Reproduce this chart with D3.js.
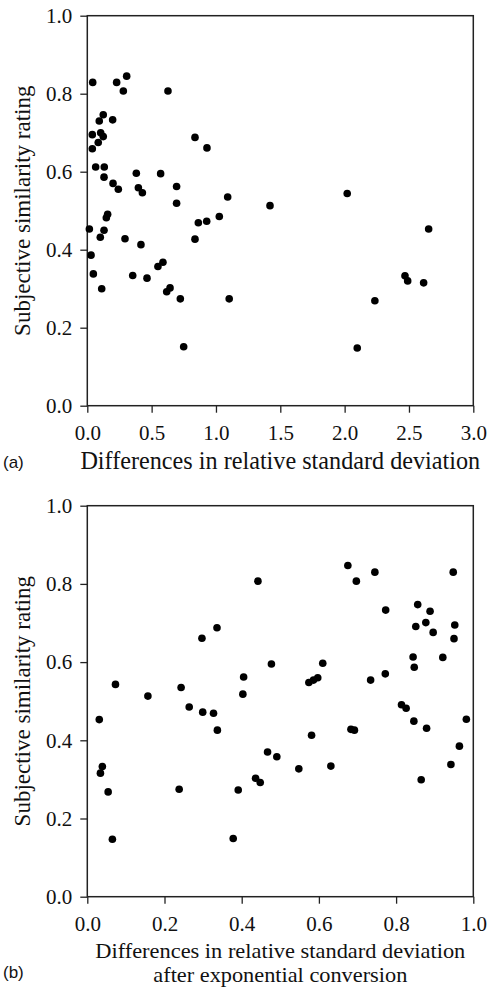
<!DOCTYPE html>
<html>
<head>
<meta charset="utf-8">
<script src="https://cdn.jsdelivr.net/npm/d3@7/dist/d3.min.js"></script>
<style>
  html, body { margin: 0; padding: 0; background: #fff; }
  svg { display: block; }
</style>
</head>
<body>
<svg id="chart" width="490" height="992"></svg>
<script>
// Panel (a): raw differences in relative standard deviation vs similarity rating
const rsdDiff = [0.042, 0.228, 0.306, 0.280, 0.627, 0.124, 0.093, 0.197, 0.039, 0.104,
  0.124, 0.085, 0.039, 0.837, 0.930, 0.065, 0.132, 0.130, 0.381, 0.570,
  0.200, 0.241, 0.397, 0.428, 0.694, 0.694, 1.091, 1.420, 0.158, 0.148,
  1.026, 0.863, 0.928, 0.016, 0.130, 0.101, 0.293, 0.837, 0.417, 0.029,
  0.047, 0.112, 0.353, 0.464, 0.549, 0.588, 0.617, 0.643, 0.723, 1.103,
  0.749, 2.020, 2.653, 2.469, 2.490, 2.614, 2.235, 2.098];
const ratingA = [0.829, 0.829, 0.845, 0.807, 0.807, 0.746, 0.730, 0.733, 0.695, 0.700,
  0.690, 0.675, 0.659, 0.688, 0.661, 0.612, 0.612, 0.586, 0.596, 0.595,
  0.570, 0.555, 0.559, 0.546, 0.562, 0.519, 0.535, 0.513, 0.491, 0.482,
  0.485, 0.469, 0.473, 0.453, 0.450, 0.432, 0.428, 0.427, 0.413, 0.386,
  0.338, 0.300, 0.334, 0.327, 0.357, 0.368, 0.292, 0.302, 0.274, 0.274,
  0.151, 0.544, 0.453, 0.333, 0.320, 0.315, 0.269, 0.148];

// Panel (b): differences after exponential conversion vs similarity rating
const expDiff = [0.031, 0.073, 0.157, 0.243, 0.264, 0.299, 0.327, 0.337, 0.297, 0.336,
  0.442, 0.477, 0.405, 0.403, 0.039, 0.034, 0.054, 0.065, 0.238, 0.378,
  0.391, 0.436, 0.448, 0.467, 0.491, 0.675, 0.697, 0.745, 0.948, 0.773,
  0.856, 0.888, 0.877, 0.851, 0.896, 0.952, 0.950, 0.610, 0.574, 0.586,
  0.597, 0.734, 0.772, 0.844, 0.847, 0.921, 0.814, 0.826, 0.846, 0.879,
  0.982, 0.581, 0.683, 0.692, 0.964, 0.548, 0.631, 0.865, 0.942];
const ratingB = [0.453, 0.543, 0.513, 0.535, 0.485, 0.472, 0.469, 0.426, 0.661, 0.688,
  0.807, 0.595, 0.562, 0.518, 0.333, 0.316, 0.268, 0.147, 0.275, 0.149,
  0.273, 0.303, 0.292, 0.370, 0.358, 0.847, 0.807, 0.830, 0.830, 0.733,
  0.747, 0.730, 0.701, 0.691, 0.676, 0.695, 0.660, 0.597, 0.548, 0.554,
  0.560, 0.554, 0.570, 0.613, 0.587, 0.612, 0.491, 0.482, 0.449, 0.431,
  0.454, 0.413, 0.428, 0.426, 0.385, 0.327, 0.334, 0.299, 0.338];

const ticksA = [0, 0.5, 1.0, 1.5, 2.0, 2.5, 3.0];
const ticksB = [0, 0.2, 0.4, 0.6, 0.8, 1.0];
const ticksY = [0, 0.2, 0.4, 0.6, 0.8, 1.0];

const yTitle = "Subjective similarity rating";
const panels = [
  { tag: "(a)", xs: rsdDiff, ys: ratingA, xMax: 3, xTicks: ticksA,
    title: ["Differences in relative standard deviation"], titleSize: 24.2,
    titleWidths: [null], titleBase: [63], tagBase: 62,
    top: 15.7, bottom: 405.7 },
  { tag: "(b)", xs: expDiff, ys: ratingB, xMax: 1, xTicks: ticksB,
    title: ["Differences in relative standard deviation", "after exponential conversion"], titleSize: 21.5,
    titleWidths: [370, 254], titleBase: [61, 85], tagBase: 81,
    top: 505.7, bottom: 896.7 }
];

const svg = d3.select("#chart");
const left = 87.3, right = 473.3;
const serif = '"Liberation Serif", "Times New Roman", serif';
const fmt = d3.format(".1f");

function styleAxis(a) {
  a.select(".domain").remove();
  a.selectAll(".tick line").attr("stroke", "#222").attr("stroke-width", 1.3);
  a.selectAll(".tick text")
    .attr("font-family", serif).attr("font-size", 21).attr("fill", "#111");
}

panels.forEach(p => {
  const x = d3.scaleLinear().domain([0, p.xMax]).range([left, right]);
  const y = d3.scaleLinear().domain([0, 1]).range([p.bottom, p.top]);
  const g = svg.append("g");

  // y axis
  g.append("g")
    .attr("transform", `translate(${left},0)`)
    .call(d3.axisLeft(y).tickValues(ticksY).tickFormat(fmt).tickSize(7).tickSizeOuter(0).tickPadding(8))
    .call(styleAxis);

  // x axis
  g.append("g")
    .attr("transform", `translate(0,${p.bottom})`)
    .call(d3.axisBottom(x).tickValues(p.xTicks).tickFormat(fmt).tickSize(7).tickSizeOuter(0).tickPadding(12))
    .call(styleAxis);

  // plot frame
  g.append("rect")
    .attr("x", left).attr("y", p.top)
    .attr("width", right - left).attr("height", p.bottom - p.top)
    .attr("fill", "none").attr("stroke", "#222").attr("stroke-width", 1.5);

  // points
  g.append("g").selectAll("circle")
    .data(d3.range(p.xs.length))
    .join("circle")
    .attr("cx", i => x(p.xs[i]))
    .attr("cy", i => y(p.ys[i]))
    .attr("r", 3.8)
    .attr("fill", "#000");

  // y title
  g.append("text")
    .attr("transform", `translate(30,${(p.top + p.bottom) / 2}) rotate(-90)`)
    .attr("text-anchor", "middle")
    .attr("font-family", serif).attr("font-size", 23).attr("fill", "#111")
    .text(yTitle);

  // x title
  p.title.forEach((line, k) => {
    const t = g.append("text")
      .attr("x", (left + right) / 2)
      .attr("y", p.bottom + p.titleBase[k])
      .attr("text-anchor", "middle")
      .attr("font-family", serif).attr("font-size", p.titleSize).attr("fill", "#111")
      .text(line);
    if (p.titleWidths[k]) t.attr("textLength", p.titleWidths[k]).attr("lengthAdjust", "spacingAndGlyphs");
  });

  // panel tag
  g.append("text")
    .attr("x", 3)
    .attr("y", p.bottom + p.tagBase)
    .attr("font-family", '"Liberation Sans", Arial, sans-serif')
    .attr("font-size", 17).attr("fill", "#111")
    .text(p.tag);
});
</script>
</body>
</html>
